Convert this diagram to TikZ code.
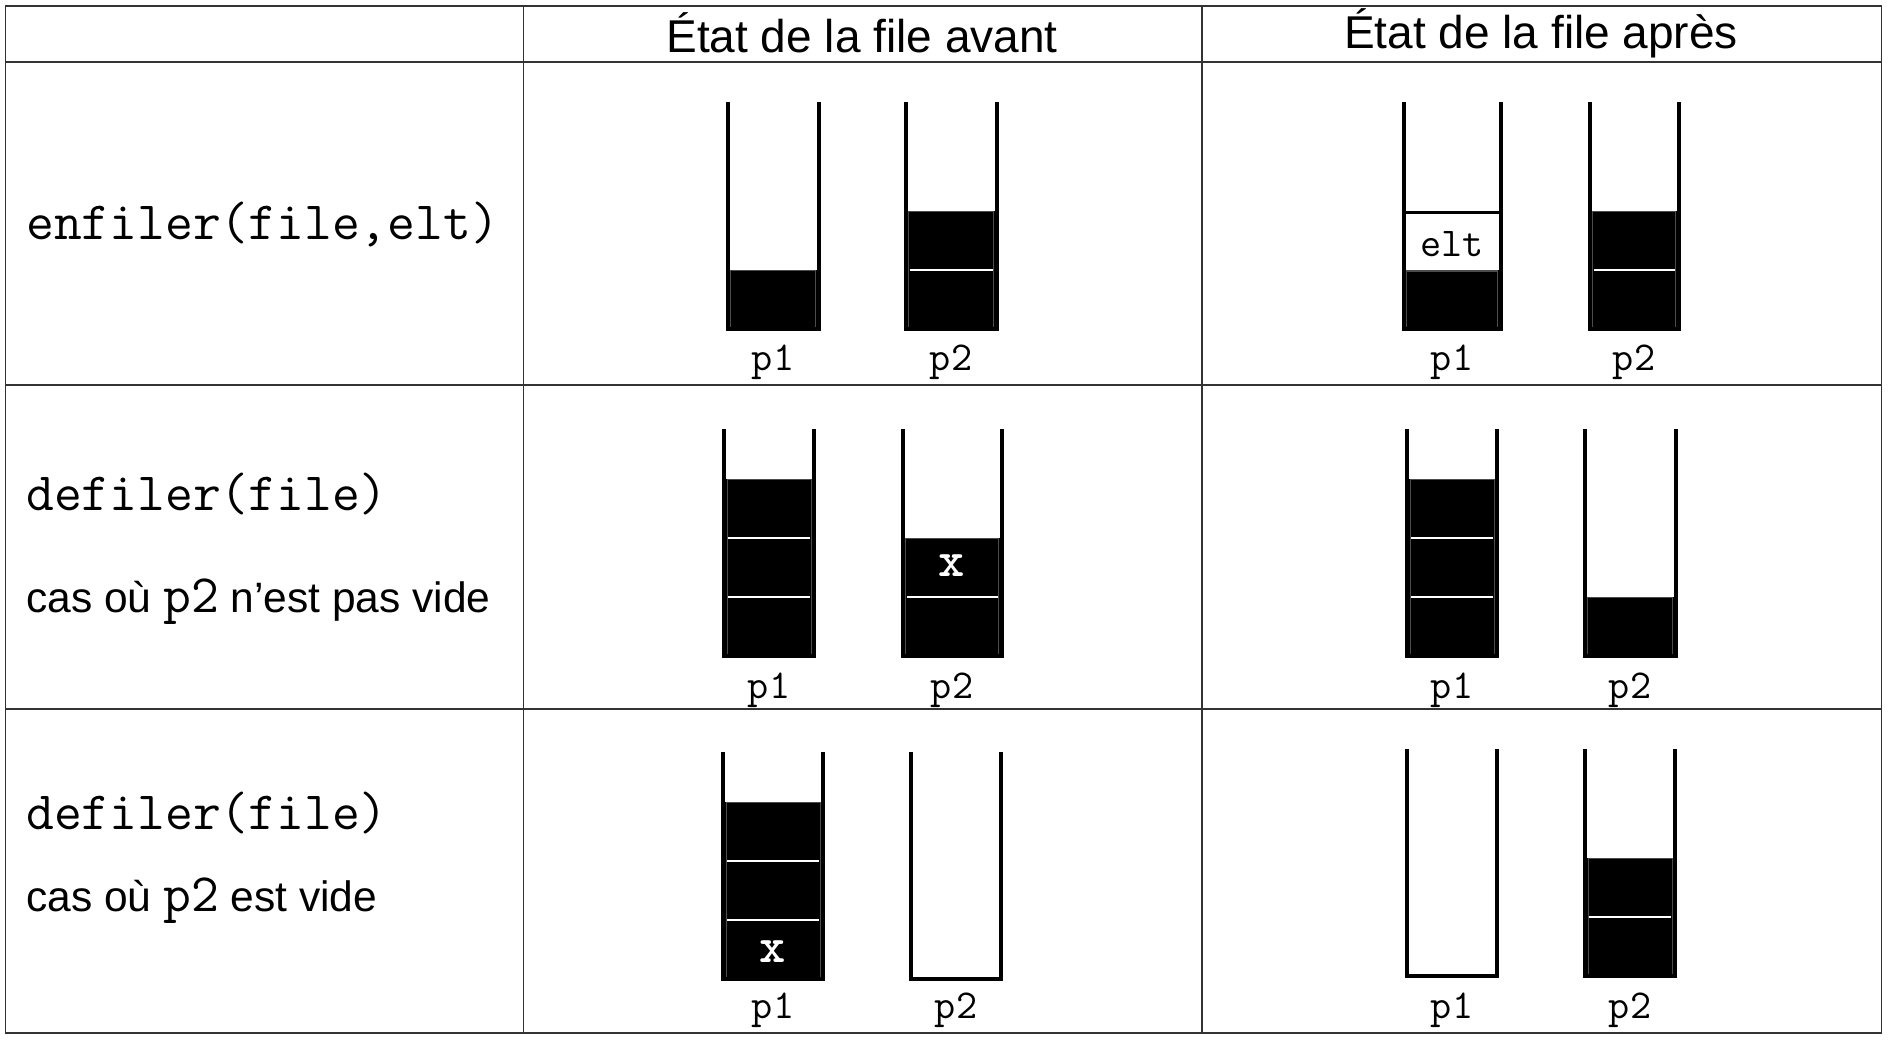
\documentclass[tikz,border=0pt]{standalone}
\usepackage{fontspec}
\setmainfont{Liberation Sans}
\newcommand\pilewalls[3]{%
  \draw[wall] ({#1-#3/2},{#2-227}) -- ({#1-#3/2},#2) -- ({#1+#3/2},#2) -- ({#1+#3/2},{#2-227});}
\newcommand\pilefill[4]{%
  \fill[black] ({#1-#3/2},#2) rectangle ({#1+#3/2},{#2-59*#4});
  \draw[cellgrid] ({#1-#3/2+3},#2) rectangle ({#1+#3/2-3},{#2-59*#4});}
\newcommand\pilesep[4]{%
  \draw[sepline] ({#1-#3/2+4},{#2-59*#4}) -- ({#1+#3/2-4},{#2-59*#4});}
\tikzset{
  grid/.style={line width=1.6pt, draw=black!80},
  wall/.style={line width=4pt, draw=black, line join=miter},
  cellgrid/.style={line width=0.8pt, draw=black!70},
  sepline/.style={line width=1.6pt, draw=white},
  head/.style={font=\fontsize{46}{54}\selectfont, inner sep=0pt},
  code/.style={font=\ttfamily\fontsize{54}{62}\selectfont, inner sep=0pt, anchor=west},
  prose/.style={font=\fontsize{42.5}{50}\selectfont, inner sep=0pt, anchor=west},
  lbl/.style={font=\ttfamily\fontsize{41}{48}\selectfont, inner sep=0pt},
  inbox/.style={font=\ttfamily\fontsize{41}{48}\selectfont, inner sep=0pt},
  xmark/.style={font=\ttfamily\bfseries\fontsize{50}{56}\selectfont, text=white, inner sep=0pt},
}
\newcommand\ttp{\ttfamily\fontsize{54}{62}\selectfont p2}
\begin{document}
\begin{tikzpicture}[x=1pt,y=-1pt]
\useasboundingbox (0,0) rectangle (1888,1042);
\fill[white] (0,0) rectangle (1888,1042);
% table grid
\draw[grid] (5.5,6) rectangle (1881.5,1033);
\draw[grid] (523.5,6) -- (523.5,1033);
\draw[grid] (1202,6) -- (1202,1033);
\draw[grid] (5.5,62) -- (1881.5,62);
\draw[grid] (5.5,385) -- (1881.5,385);
\draw[grid] (5.5,709) -- (1881.5,709);
% headers
\node[head] (hav) at (862,33) {État de la file avant};
\node[head] (hap) at (1541,33) {État de la file après};
% left column
\node[code] (op1) at (26,225) {enfiler(file,elt)};
\node[code] (op2) at (26,494) {defiler(file)};
\node[prose] (cas2) at (26,602) {cas où {\ttp} n’est pas vide};
\node[code] (op3) at (26,813) {defiler(file)};
\node[prose] (cas3) at (26,901) {cas où {\ttp} est vide};
% ---------- row 1 ----------
\pilefill{773}{329}{91}{1}
\pilewalls{773}{329}{91}
\pilefill{951}{329}{91}{2}
\pilesep{951}{329}{91}{1}
\pilewalls{951}{329}{91}
\pilefill{1452}{329}{97}{1}
\draw[line width=3pt] (1403.5,212) -- (1500.5,212);
\draw[cellgrid] (1406,271) -- (1498,271);
\pilewalls{1452}{329}{97}
\node[inbox] (elt) at (1452,244) {elt};
\pilefill{1634}{329}{89}{2}
\pilesep{1634}{329}{89}{1}
\pilewalls{1634}{329}{89}
\node[lbl] (l11) at (773,362) {p1};
\node[lbl] (l12) at (951,362) {p2};
\node[lbl] (l13) at (1452,362) {p1};
\node[lbl] (l14) at (1634,362) {p2};
% ---------- row 2 ----------
\pilefill{769}{656}{90}{3}
\pilesep{769}{656}{90}{1}
\pilesep{769}{656}{90}{2}
\pilewalls{769}{656}{90}
\pilefill{952}{656}{99}{2}
\pilesep{952}{656}{99}{1}
\pilewalls{952}{656}{99}
\node[xmark] (x2) at (952,566) {x};
\pilefill{1452}{656}{90}{3}
\pilesep{1452}{656}{90}{1}
\pilesep{1452}{656}{90}{2}
\pilewalls{1452}{656}{90}
\pilefill{1630}{656}{91}{1}
\pilewalls{1630}{656}{91}
\node[lbl] (l21) at (769,690) {p1};
\node[lbl] (l22) at (952,690) {p2};
\node[lbl] (l23) at (1452,690) {p1};
\node[lbl] (l24) at (1630,690) {p2};
% ---------- row 3 ----------
\pilefill{773}{979}{100}{3}
\pilesep{773}{979}{100}{1}
\pilesep{773}{979}{100}{2}
\pilewalls{773}{979}{100}
\node[xmark] (x3) at (773,952) {x};
\pilewalls{956}{979}{90}
\pilewalls{1452}{976}{90}
\pilefill{1630}{976}{90}{2}
\pilesep{1630}{976}{90}{1}
\pilewalls{1630}{976}{90}
\node[lbl] (l31) at (773,1010) {p1};
\node[lbl] (l32) at (956,1010) {p2};
\node[lbl] (l33) at (1452,1010) {p1};
\node[lbl] (l34) at (1630,1010) {p2};
\end{tikzpicture}
\end{document}
